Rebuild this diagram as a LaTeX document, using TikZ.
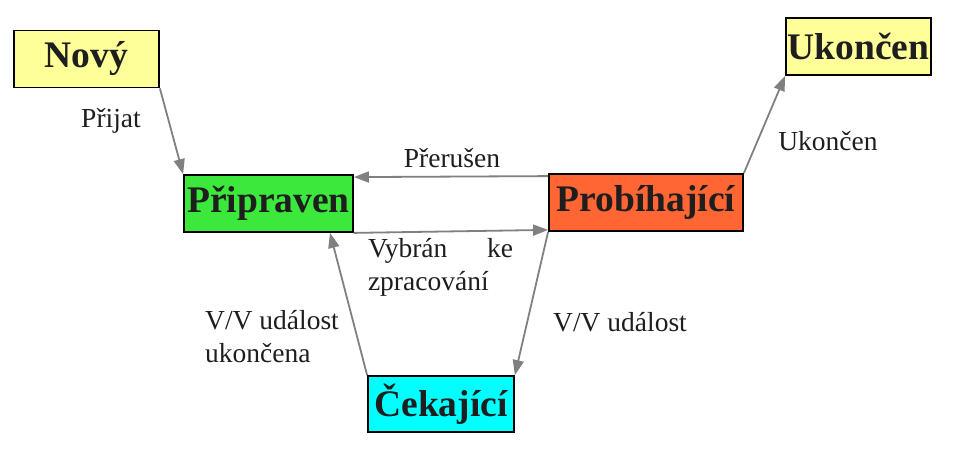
\documentclass[tikz,border=0pt]{standalone}
\usepackage{fontspec}
\setmainfont{Liberation Serif}
\usetikzlibrary{arrows.meta}
\definecolor{novyyellow}{HTML}{FFFF99}
\definecolor{readygreen}{HTML}{3BE83B}
\definecolor{runorange}{HTML}{FF6633}
\definecolor{waitcyan}{HTML}{00FFFF}
\definecolor{textgray}{HTML}{1E1E1E}

\begin{document}
\begin{tikzpicture}[x=1pt,y=1pt,
	state/.style={draw=black, line width=1.8pt, inner sep=0pt, minimum height=57pt,
		text=textgray, font=\fontsize{37.5}{42}\selectfont\bfseries},
	lbl/.style={inner sep=0pt, text=textgray, font=\fontsize{27.5}{33}\selectfont},
	flow/.style={draw=gray, line width=1.8pt, -{Triangle[length=15pt,width=11pt]}}]
	\useasboundingbox (0,0) rectangle (972,471);
	\node[state, fill=novyyellow, minimum width=145pt] (novy) at (86.5,412) {Nový};
	\node[state, fill=novyyellow, minimum width=145pt] (ukoncen) at (858.5,424.5) {Ukončen};
	\node[state, fill=readygreen, minimum width=169pt] (pripraven) at (268.5,267.5) {Připraven};
	\node[state, fill=runorange, minimum width=194pt] (probihajici) at (646,268.5) {Probíhající};
	\node[state, fill=waitcyan, minimum width=146pt, minimum height=56pt] (cekajici) at (441,67) {Čekající};
	\node[lbl] (prijat) at (111,350) {Přijat};
	\node[lbl] (preruseni) at (452,313) {Přerušen};
	\node[lbl, align=left] (vybran) at (440.5,204) {\hbox to 145pt{Vybrán\hfill ke}\\zpracování};
	\node[lbl] (konec) at (828,330) {Ukončen};
	\node[lbl] (vvudalost) at (620,149) {V/V událost};
	\node[lbl, align=left] (vvkonec) at (272,134) {V/V událost\\ukončena};
	\draw[flow] (novy.south east) -- (pripraven.north west);
	\draw[flow] ([yshift=-3pt]probihajici.north west) -- ([yshift=-3pt]pripraven.north east);
	\draw[flow] (pripraven.south east) -- ([yshift=2pt]probihajici.south west);
	\draw[flow] (probihajici.south west) -- (cekajici.north east);
	\draw[flow] (cekajici.north west) -- ([xshift=61.5pt]pripraven.south);
	\draw[flow] (probihajici.north east) -- (ukoncen.south west);
\end{tikzpicture}
\end{document}
